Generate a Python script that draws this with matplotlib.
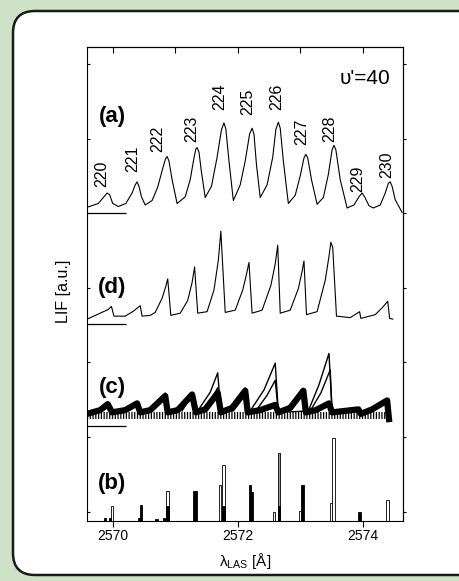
import matplotlib
matplotlib.use("Agg")
import matplotlib.pyplot as plt
from matplotlib.patches import FancyBboxPatch
from matplotlib.transforms import IdentityTransform
from matplotlib.ticker import NullFormatter

plt.rcParams["font.family"] = ["Liberation Sans", "DejaVu Sans"]
plt.rcParams["hatch.linewidth"] = 0.9

# (a) measured LIF spectrum: wavelength [A] and signal above its zero line
a_wl = [2569.59, 2569.77, 2569.86, 2569.91, 2569.95, 2570.00, 2570.09,
        2570.21, 2570.31, 2570.36, 2570.39, 2570.42, 2570.46, 2570.52,
        2570.63, 2570.72, 2570.80, 2570.845, 2570.87, 2570.90, 2570.95, 2571.03,
        2571.16, 2571.24, 2571.30, 2571.33, 2571.35, 2571.38, 2571.42, 2571.48,
        2571.58, 2571.67, 2571.74, 2571.78, 2571.81, 2571.86, 2571.93,
        2572.04, 2572.12, 2572.19, 2572.23, 2572.26, 2572.30, 2572.36,
        2572.47, 2572.56, 2572.61, 2572.65, 2572.68, 2572.73, 2572.81,
        2572.92, 2573.00, 2573.06, 2573.09, 2573.12, 2573.18, 2573.27,
        2573.37, 2573.45, 2573.51, 2573.54, 2573.57, 2573.64, 2573.75,
        2573.86, 2573.94, 2573.99, 2574.03, 2574.10, 2574.17,
        2574.28, 2574.36, 2574.41, 2574.44, 2574.47, 2574.52, 2574.63]
a_sig = [0.08, 0.13, 0.22, 0.27, 0.25, 0.13, 0.09,
         0.13, 0.27, 0.38, 0.42, 0.36, 0.22, 0.11,
         0.17, 0.35, 0.60, 0.73, 0.76, 0.70, 0.45, 0.13,
         0.22, 0.45, 0.74, 0.86, 0.88, 0.82, 0.55, 0.21,
         0.36, 0.75, 1.12, 1.21, 1.13, 0.70, 0.17,
         0.38, 0.70, 1.06, 1.14, 1.06, 0.65, 0.21,
         0.38, 0.75, 1.12, 1.22, 1.14, 0.70, 0.13,
         0.24, 0.50, 0.74, 0.79, 0.74, 0.45, 0.12,
         0.21, 0.52, 0.85, 0.91, 0.85, 0.45, 0.07,
         0.11, 0.22, 0.27, 0.22, 0.10, 0.07,
         0.11, 0.27, 0.40, 0.42, 0.36, 0.18, 0.01]

# rotational line labels over the (a) peaks
peak_labels = ["220", "221", "222", "223", "224", "225", "226", "227", "228", "229", "230"]
peak_label_wl = [2569.83, 2570.32, 2570.72, 2571.27, 2571.72, 2572.16, 2572.63, 2573.03, 2573.48, 2573.92, 2574.39]
peak_label_y = [4.35, 4.55, 4.82, 4.95, 5.38, 5.32, 5.38, 4.91, 4.95, 4.28, 4.47]

# (d) simulated spectrum
d_wl = [2569.59, 2569.80, 2569.93, 2569.98, 2570.02, 2570.20, 2570.32, 2570.44, 2570.47,
        2570.60, 2570.68, 2570.79, 2570.85, 2570.88, 2570.93,
        2571.08, 2571.20, 2571.27, 2571.31, 2571.36,
        2571.51, 2571.62, 2571.69, 2571.73, 2571.80,
        2571.96, 2572.08, 2572.14, 2572.18, 2572.23,
        2572.39, 2572.53, 2572.60, 2572.64, 2572.68,
        2572.84, 2572.97, 2573.03, 2573.06, 2573.10,
        2573.27, 2573.40, 2573.46, 2573.49, 2573.52, 2573.58,
        2573.80, 2573.95, 2573.97, 2574.20, 2574.32, 2574.40, 2574.43, 2574.48]
d_sig = [0.06, 0.14, 0.19, 0.23, 0.10, 0.10, 0.16, 0.24, 0.10,
         0.11, 0.15, 0.34, 0.50, 0.60, 0.11,
         0.14, 0.31, 0.55, 0.76, 0.14,
         0.16, 0.45, 0.85, 1.24, 0.15,
         0.18, 0.45, 0.66, 0.82, 0.14,
         0.18, 0.51, 0.80, 1.05, 0.14,
         0.18, 0.47, 0.70, 0.84, 0.12,
         0.16, 0.58, 0.90, 1.09, 1.02, 0.10,
         0.08, 0.16, 0.07, 0.12, 0.22, 0.30, 0.07, 0.06]

# (c) overlapping band simulations: dense low band plus taller members
c_band_wl = [2569.59, 2569.80, 2569.92, 2569.99, 2570.20, 2570.39, 2570.44, 2570.60, 2570.84, 2570.88,
             2571.04, 2571.27, 2571.33, 2571.48, 2571.68, 2571.73, 2571.91, 2572.12, 2572.16, 2572.36,
             2572.60, 2572.65, 2572.84, 2573.05, 2573.09, 2573.25, 2573.46, 2573.51, 2573.72, 2573.93,
             2573.97, 2574.15, 2574.39, 2574.42]
c_band_sig = [0.16, 0.21, 0.29, 0.18, 0.21, 0.30, 0.18, 0.21, 0.40, 0.18,
              0.21, 0.42, 0.18, 0.22, 0.44, 0.18, 0.24, 0.47, 0.18, 0.21,
              0.28, 0.18, 0.24, 0.47, 0.18, 0.21, 0.30, 0.18, 0.20, 0.22,
              0.16, 0.22, 0.34, 0.09]
c_high_wl = [2570.60, 2570.76, 2570.84, 2570.88, 2571.04, 2571.19, 2571.27, 2571.33, 2571.36, 2571.56,
             2571.68, 2571.73, 2571.85, 2572.00, 2572.12, 2572.16, 2572.20, 2572.42, 2572.60, 2572.65,
             2572.76, 2572.93, 2573.05, 2573.09, 2573.13, 2573.30, 2573.46, 2573.51]
c_high_sig = [0.20, 0.32, 0.44, 0.18, 0.21, 0.34, 0.44, 0.18, 0.20, 0.45,
              0.71, 0.18, 0.21, 0.34, 0.51, 0.18, 0.20, 0.48, 0.84, 0.18,
              0.21, 0.37, 0.48, 0.18, 0.20, 0.55, 0.97, 0.18]
c_mid_wl = [2571.11, 2571.20, 2571.27, 2571.33, 2571.44, 2571.59, 2571.68, 2571.73, 2571.93, 2572.04,
            2572.12, 2572.16, 2572.29, 2572.47, 2572.60, 2572.65, 2573.16, 2573.33, 2573.48, 2573.51]
c_mid_sig = [0.20, 0.32, 0.37, 0.18, 0.20, 0.37, 0.51, 0.18, 0.20, 0.32,
             0.41, 0.18, 0.20, 0.41, 0.61, 0.18, 0.20, 0.44, 0.75, 0.18]

# (b) stick spectrum: line position, intensity and line type
b_wl = [2569.88, 2569.96, 2569.99, 2570.43, 2570.45, 2570.70, 2570.82, 2570.88, 2570.88, 2571.31,
        2571.33, 2571.72, 2571.77, 2571.77, 2572.20, 2572.22, 2572.58, 2572.66, 2572.66, 2573.00,
        2573.04, 2573.49, 2573.53, 2573.95, 2574.40]
b_int = [0.03, 0.04, 0.20, 0.03, 0.21, 0.02, 0.04, 0.39, 0.20, 0.40,
         0.39, 0.47, 0.75, 0.20, 0.48, 0.38, 0.12, 0.90, 0.20, 0.13,
         0.47, 0.24, 1.10, 0.12, 0.28]
b_kind = ["f", "f", "o", "f", "f", "f", "f", "o", "f", "f",
          "f", "o", "o", "f", "f", "f", "o", "g", "f", "o",
          "f", "o", "o", "f", "o"]

a_zero, d_zero, c_zero, b_zero = 4.0, 2.52, 1.15, -0.12

fig = plt.figure(figsize=(4.6, 5.81), dpi=100)
fig.patch.set_facecolor("#cfe2c7")
frame = FancyBboxPatch((13, 6), 470, 564, boxstyle="round,pad=0,rounding_size=22",
                       transform=IdentityTransform(), facecolor="white",
                       edgecolor="#1a1a1a", linewidth=1.8, zorder=-1)
fig.patches.append(frame)

ax = fig.add_axes([0.1885, 0.1033, 0.687, 0.8153])
ax.set_facecolor("none")
lw = 0.8

ax.plot(a_wl, [v + a_zero for v in a_sig], color="black", lw=lw)
ax.plot(d_wl, [v + d_zero for v in d_sig], color="black", lw=lw)

ax.fill_between([c_band_wl[0], c_band_wl[-1]], c_zero + 0.09, c_zero + 0.18,
                facecolor="white", edgecolor="black", hatch="||||||", lw=0)
ax.plot(c_band_wl, [v + c_zero for v in c_band_sig], color="black", lw=4.5, solid_joinstyle="round")
ax.plot(c_high_wl, [v + c_zero for v in c_high_sig], color="black", lw=1.0)
ax.plot(c_mid_wl, [v + c_zero for v in c_mid_sig], color="black", lw=1.0)

colors = {"o": "white", "g": "#9a9a9a", "f": "black"}
for kind in ["o", "g", "f"]:
    xs = [w for w, k in zip(b_wl, b_kind) if k == kind]
    hs = [h for h, k in zip(b_int, b_kind) if k == kind]
    ax.bar(xs, hs, width=0.04, bottom=b_zero, color=colors[kind], edgecolor="black", lw=0.6)

# zero-level markers
for z in [a_zero, d_zero, c_zero]:
    ax.hlines(z, 2569.584, 2570.21, color="black", lw=0.9)

for lab, x, y in zip(peak_labels, peak_label_wl, peak_label_y):
    ax.text(x, y, lab, rotation=90, ha="center", va="bottom", fontsize=11.5)

for lab, y in zip(["(a)", "(d)", "(c)", "(b)"], [5.30, 3.01, 1.67, 0.38]):
    ax.text(2569.99, y, lab, ha="center", va="center", fontsize=16, fontweight="bold")
ax.text(2574.04, 5.81, "\u03c5'=40", ha="center", va="center", fontsize=15)

ax.set_xlim(2569.584, 2574.64)
ax.set_ylim(-0.126, 6.224)
ax.set_xticks([2570, 2572, 2574])
ax.set_yticks(range(7))
ax.tick_params(axis="x", direction="out", length=4, width=0.8, labelsize=10, pad=2)
ax.tick_params(axis="y", direction="in", length=2, width=0.8, labelleft=False)
for sp in ax.spines.values():
    sp.set_linewidth(0.8)

secx = ax.secondary_xaxis("top")
secx.set_xticks([2570, 2571, 2572, 2573, 2574])
secx.xaxis.set_major_formatter(NullFormatter())
secx.tick_params(direction="in", length=4, width=0.8)
secy = ax.secondary_yaxis("right")
secy.set_yticks(range(7))
secy.yaxis.set_major_formatter(NullFormatter())
secy.tick_params(direction="out", length=2.5, width=0.8)

ax.set_xlabel("\u03bb$_\\mathregular{LAS}$ [\u00c5]", fontsize=11)
ax.xaxis.set_label_coords(0.501, -0.063)
ax.set_ylabel("LIF [a.u.]", fontsize=11.5)
ax.yaxis.set_label_coords(-0.075, 0.4845)
ax.yaxis.label.set_va("center")

fig.savefig("out.png", dpi=100)
